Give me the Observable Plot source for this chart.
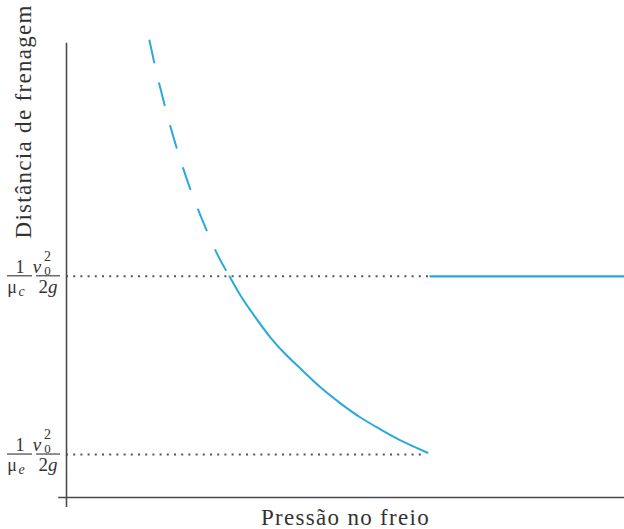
<!DOCTYPE html>
<html>
<head>
<meta charset="utf-8">
<script src="https://cdn.jsdelivr.net/npm/d3@7"></script>
<script src="https://cdn.jsdelivr.net/npm/@observablehq/plot@0.6"></script>
<style>
  html, body { margin: 0; padding: 0; background: #fff; overflow: hidden; }
  #chart svg { display: block; }
</style>
</head>
<body>
<div id="chart"></div>
<script>
// Data (arbitrary units: pressure 0–100, distance 0–100)
const dashedPressure = [14.87, 16.13, 17.56, 19.18, 20.97, 22.94, 25.27, 27.24, 29.21];
const dashedDistance = [100, 93.0, 86.0, 78.8, 71.8, 65.0, 58.0, 52.7, 48.4];
const solidPressure = [29.21, 31.18, 33.51, 36.56, 39.61, 42.29, 45.52, 49.10, 52.69, 56.27, 59.86, 64.70];
const solidDistance = [48.4, 44.2, 40.0, 35.0, 30.9, 27.8, 24.1, 20.6, 17.5, 14.9, 12.5, 9.8];
const levelNames = ["c", "e"];           // μc, μe
const levelValues = [48.4, 9.4];
const levelEnds = [65.2, 64.5];          // where the dotted guides stop
const plateauPressure = [65.2, 100];
const xLabel = "Pressão no freio";
const yLabel = "Distância de frenagem";

const dashed = dashedPressure.map((p, i) => ({p, d: dashedDistance[i]}));
const solid = solidPressure.map((p, i) => ({p, d: solidDistance[i]}));
const levels = levelNames.map((n, i) => ({n, v: levelValues[i], end: levelEnds[i]}));
const plateau = plateauPressure.map(p => ({p, d: levelValues[0]}));

const blue = "#29a9dc";
const axisColor = "#4a4a4a";
const textColor = "#333";
const serif = "'Liberation Serif', 'DejaVu Serif', serif";

const plot = Plot.plot({
  width: 624,
  height: 529,
  x: {domain: [0, 100], range: [66, 624], axis: null},
  y: {domain: [0, 100], range: [497, 40], axis: null},
  style: {fontFamily: serif, background: "#fff", overflow: "visible"},
  marks: [
    Plot.ruleY(levels, {y: "v", x1: 0, x2: "end", stroke: "#555", strokeWidth: 2, strokeDasharray: "2,5.2"}),
    Plot.ruleX([0], {y1: -2.2, y2: 99.4, stroke: axisColor, strokeWidth: 1.6}),
    Plot.ruleY([0], {x1: -1.4, x2: 100, stroke: axisColor, strokeWidth: 1.6}),
    Plot.line(dashed, {x: "p", y: "d", curve: "natural", stroke: blue, strokeWidth: 2, strokeDasharray: "22.5,21.5"}),
    Plot.line(solid, {x: "p", y: "d", curve: "natural", stroke: blue, strokeWidth: 2}),
    Plot.line(plateau, {x: "p", y: "d", stroke: blue, strokeWidth: 2.2}),
    Plot.text([xLabel], {x: 50, y: 0, dy: 20.5, text: d => d, fontSize: 23, fill: textColor, fontFamily: serif}),
    Plot.text([yLabel], {x: 0, y: 82.3, dx: -43, rotate: -90, text: d => d, fontSize: 23, fill: textColor, fontFamily: serif})
  ]
});

d3.select(plot).selectAll("text").style("letter-spacing", "1.3px");

// Fraction tick labels, positioned by the y scale
const ys = plot.scale("y");
const svg = d3.select(plot);
levels.forEach(l => {
  const g = svg.append("g")
    .attr("transform", `translate(0,${ys.apply(l.v)})`)
    .attr("font-family", serif)
    .attr("fill", textColor);
  g.append("text").attr("x", 20).attr("y", -3).attr("font-size", 18).attr("text-anchor", "middle").text("1");
  g.append("line").attr("x1", 7).attr("x2", 32).attr("y1", 0).attr("y2", 0).attr("stroke", textColor).attr("stroke-width", 1.1);
  g.append("text").attr("x", 12).attr("y", 17).attr("font-size", 18).text("μ");
  g.append("text").attr("x", 21.5).attr("y", 20).attr("font-size", 14).attr("font-style", "italic").text(l.n);
  g.append("text").attr("x", 37).attr("y", -3).attr("font-size", 19).attr("font-style", "italic").text("v");
  g.append("text").attr("x", 47.5).attr("y", -15).attr("font-size", 14).text("2");
  g.append("text").attr("x", 47.5).attr("y", -1).attr("font-size", 13).text("0");
  g.append("line").attr("x1", 36).attr("x2", 60).attr("y1", 0).attr("y2", 0).attr("stroke", textColor).attr("stroke-width", 1.1);
  g.append("text").attr("x", 48).attr("y", 17).attr("font-size", 19).attr("text-anchor", "middle")
    .call(t => { t.append("tspan").text("2"); t.append("tspan").attr("font-style", "italic").text("g"); });
});

document.getElementById("chart").appendChild(plot);
</script>
</body>
</html>
